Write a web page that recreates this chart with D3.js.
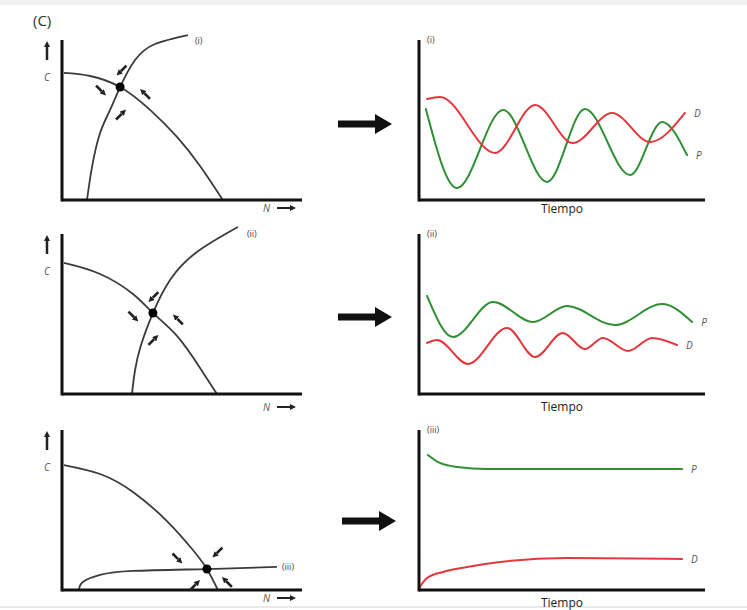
<!DOCTYPE html>
<html>
<head>
    <meta charset="utf-8">
    <title>Isoclinas y dinámica en el tiempo</title>
    <style>
        body {
            margin: 0;
            background: #fff;
        }

        svg {
            display: block;
            font-family: "Open Sans", "Noto Sans", sans-serif;
        }

        .iso {
            fill: none;
            stroke: #3b3b3b;
            stroke-width: 1.8;
        }

        .axis-line {
            stroke: #111;
            stroke-width: 3;
        }

        .series {
            fill: none;
            stroke-width: 2;
            stroke-linecap: round;
        }
    </style>
    <script src="https://d3js.org/d3.v7.min.js"></script>
</head>
<body>
<svg id="chart" width="747" height="610"></svg>
<script>
    // nombres de los paneles
    const panelLabels = ["(i)", "(ii)", "(iii)"];

    // isoclina descendente, puntos [N, C]
    const curveDown = [
        [[0.8, 79.4], [11.8, 77.5], [24.4, 70.6], [37.0, 56.3], [48.3, 39.4], [58.0, 21.3], [67.6, 0]],
        [[0.8, 81.9], [16.0, 75.0], [29.8, 62.5], [38.2, 50.6], [48.3, 36.3], [58.0, 16.3], [65.1, 0]],
        [[0.8, 78.1], [16.0, 72.5], [29.8, 61.3], [44.1, 43.1], [55.0, 25.0], [60.9, 13.1], [65.5, 0]]
    ];

    // isoclina ascendente, puntos [N, C]
    const curveUp = [
        [[10.5, 0], [12.6, 20.6], [16.0, 41.9], [20.2, 56.3], [24.4, 70.6], [30.7, 87.5], [39.1, 97.5], [52.9, 103.1]],
        [[29.4, 0], [30.7, 15.0], [33.2, 30.6], [38.2, 50.6], [45.4, 71.3], [56.7, 88.8], [73.9, 104.4]],
        [[7.1, 0], [8.8, 5.0], [16.0, 9.4], [29.8, 11.9], [60.9, 13.1], [90.3, 14.4]]
    ];

    // punto de equilibrio [N, C]
    const equilibria = [[24.4, 70.6], [38.2, 50.6], [60.9, 13.1]];

    // flechitas alrededor del equilibrio: centro [N, C] y dirección
    const flowArrows = [
        [{n: 25.0, c: 80.9, dir: "SW"}, {n: 16.4, c: 68.4, dir: "SE"}, {n: 34.9, c: 66.3, dir: "NW"}, {n: 24.8, c: 53.4, dir: "NE"}],
        [{n: 38.4, c: 60.6, dir: "SW"}, {n: 30.0, c: 48.4, dir: "SE"}, {n: 48.7, c: 46.6, dir: "NW"}, {n: 38.4, c: 33.8, dir: "NE"}],
        [{n: 48.5, c: 19.7, dir: "SE"}, {n: 65.3, c: 23.4, dir: "SW"}, {n: 55.9, c: 3.1, dir: "NE"}, {n: 69.3, c: 5.0, dir: "NW"}]
    ];

    // series en el tiempo, puntos [tiempo, valor]
    const seriesD = [
        [[2.8, 63.1], [7.3, 64.4], [26.6, 29.4], [40.6, 59.4], [53.8, 35.6], [67.5, 54.4], [80.8, 36.3], [93.0, 54.4]],
        [[2.8, 31.9], [6.3, 33.8], [17.1, 18.8], [30.8, 41.3], [40.6, 23.1], [50.3, 38.1], [58.0, 28.1], [64.3, 35.0], [73.1, 26.9], [81.5, 35.0], [90.2, 30.6]],
        [[0.3, 1.9], [2.8, 7.5], [8.4, 11.3], [16.8, 14.4], [28.3, 17.5], [51.7, 20.0], [92.0, 19.4]]
    ];
    const seriesP = [
        [[2.4, 56.9], [13.3, 7.5], [29.4, 56.3], [44.8, 11.3], [58.0, 56.9], [73.8, 15.6], [85.0, 48.8], [93.7, 28.1]],
        [[2.8, 61.3], [11.9, 35.6], [25.9, 57.5], [39.9, 45.0], [51.7, 55.0], [68.5, 43.1], [85.0, 56.3], [95.5, 45.0]],
        [[3.1, 84.4], [7.3, 79.4], [13.3, 76.9], [23.8, 75.6], [56.3, 75.6], [92.0, 75.6]]
    ];

    // ---- disposición ----
    const rowTop = [40, 234, 430];
    const rowH = 160;
    const phaseRange = [62, 300];
    const timeRange = [419, 705];
    const bigArrowY = [124, 317, 521];
    const tiempoDy = [13, 17, 17];
    const nLabelDy = [12, 17, 12];
    const curveLabelOffset = [[7, 7], [9, 8], [5, 1]];
    const red = "#e2383b";
    const green = "#2f8f35";

    const dirs = {
        NE: [0.707, -0.707], NW: [-0.707, -0.707],
        SE: [0.707, 0.707], SW: [-0.707, 0.707]
    };

    const svg = d3.select("#chart");

    const defs = svg.append("defs");
    defs.append("marker")
        .attr("id", "head-small")
        .attr("viewBox", "0 -5 10 10")
        .attr("refX", 0)
        .attr("markerUnits", "userSpaceOnUse")
        .attr("markerWidth", 6)
        .attr("markerHeight", 6)
        .attr("orient", "auto")
        .append("path")
        .attr("d", "M0,-5L10,0L0,5Z")
        .attr("fill", "#222");
    defs.append("marker")
        .attr("id", "head-axis")
        .attr("viewBox", "0 -5 10 10")
        .attr("refX", 0)
        .attr("markerUnits", "userSpaceOnUse")
        .attr("markerWidth", 7)
        .attr("markerHeight", 6)
        .attr("orient", "auto")
        .append("path")
        .attr("d", "M0,-5L10,0L0,5Z")
        .attr("fill", "#222");

    // franja gris arriba y línea abajo (captura original)
    svg.append("rect")
        .attr("x", 0).attr("y", 0)
        .attr("width", 747).attr("height", 5)
        .attr("fill", "#f2f2f2");
    svg.append("line")
        .attr("x1", 0).attr("x2", 747)
        .attr("y1", 607).attr("y2", 607)
        .attr("stroke", "#e3e3e3")
        .attr("stroke-width", 1.5);

    svg.append("text")
        .attr("x", 33)
        .attr("y", 26)
        .attr("font-size", 15)
        .attr("fill", "#333")
        .text("(C)");

    const xN = d3.scaleLinear().domain([0, 100]).range(phaseRange);
    const xT = d3.scaleLinear().domain([0, 100]).range(timeRange);

    panelLabels.forEach((label, i) => {
        const top = rowTop[i];
        const bottom = top + rowH;
        const y = d3.scaleLinear().domain([0, 100]).range([bottom, top]);

        // ---------- plano de fases ----------
        const left = svg.append("g").attr("class", "phase");

        const isoLine = d3.line()
            .x(d => xN(d[0]))
            .y(d => y(d[1]))
            .curve(d3.curveNatural);

        left.append("path").attr("class", "iso").attr("d", isoLine(curveDown[i]));
        left.append("path").attr("class", "iso").attr("d", isoLine(curveUp[i]));

        const upEnd = curveUp[i][curveUp[i].length - 1];
        left.append("text")
            .attr("x", xN(upEnd[0]) + curveLabelOffset[i][0])
            .attr("y", y(upEnd[1]) + curveLabelOffset[i][1])
            .attr("dominant-baseline", "middle")
            .attr("font-size", 9)
            .attr("fill", "#444")
            .text(label);

        // ejes
        left.append("line").attr("class", "axis-line")
            .attr("x1", phaseRange[0]).attr("x2", phaseRange[0])
            .attr("y1", top).attr("y2", bottom + 1.5);
        left.append("line").attr("class", "axis-line")
            .attr("x1", phaseRange[0]).attr("x2", phaseRange[1] + 2)
            .attr("y1", bottom).attr("y2", bottom);

        // flecha y etiqueta C
        left.append("line")
            .attr("x1", 47).attr("x2", 47)
            .attr("y1", top + 20).attr("y2", top + 7)
            .attr("stroke", "#222")
            .attr("stroke-width", 2.5)
            .attr("marker-end", "url(#head-axis)");
        left.append("text")
            .attr("x", 47)
            .attr("y", top + 41)
            .attr("text-anchor", "middle")
            .attr("font-size", 10)
            .attr("font-style", "italic")
            .attr("fill", "#555")
            .text("C");

        // etiqueta N y flecha
        const nx = phaseRange[0] + 201;
        left.append("text")
            .attr("x", nx)
            .attr("y", bottom + nLabelDy[i])
            .attr("font-size", 10)
            .attr("font-style", "italic")
            .attr("fill", "#555")
            .text("N");
        left.append("line")
            .attr("x1", nx + 14).attr("x2", nx + 27)
            .attr("y1", bottom + nLabelDy[i] - 4).attr("y2", bottom + nLabelDy[i] - 4)
            .attr("stroke", "#222")
            .attr("stroke-width", 2)
            .attr("marker-end", "url(#head-axis)");

        // flechitas hacia el equilibrio
        left.selectAll(".flow")
            .data(flowArrows[i])
            .join("line")
            .attr("class", "flow")
            .attr("x1", d => xN(d.n) - 7 * dirs[d.dir][0])
            .attr("y1", d => y(d.c) - 7 * dirs[d.dir][1])
            .attr("x2", d => xN(d.n) + 1 * dirs[d.dir][0])
            .attr("y2", d => y(d.c) + 1 * dirs[d.dir][1])
            .attr("stroke", "#222")
            .attr("stroke-width", 2.6)
            .attr("marker-end", "url(#head-small)");

        left.append("circle")
            .attr("cx", xN(equilibria[i][0]))
            .attr("cy", y(equilibria[i][1]))
            .attr("r", 4.5)
            .attr("fill", "#000");

        // ---------- flecha grande ----------
        const ay = bigArrowY[i];
        const ax = i === 2 ? 342 : 338;
        svg.append("path")
            .attr("d", `M${ax},${ay - 3.5}H${ax + 37}V${ay - 10}L${ax + 54},${ay}L${ax + 37},${ay + 10}V${ay + 3.5}H${ax}Z`)
            .attr("fill", "#111");

        // ---------- serie temporal ----------
        const right = svg.append("g").attr("class", "time");

        const tLine = d3.line()
            .x(d => xT(d[0]))
            .y(d => y(d[1]))
            .curve(d3.curveMonotoneX);

        right.append("path").attr("class", "series")
            .attr("stroke", green)
            .attr("d", tLine(seriesP[i]));
        right.append("path").attr("class", "series")
            .attr("stroke", red)
            .attr("d", tLine(seriesD[i]));

        const endP = seriesP[i][seriesP[i].length - 1];
        const endD = seriesD[i][seriesD[i].length - 1];
        right.selectAll(".slabel")
            .data([{p: endP, t: "P"}, {p: endD, t: "D"}])
            .join("text")
            .attr("class", "slabel")
            .attr("x", d => xT(d.p[0]) + 9)
            .attr("y", d => y(d.p[1]) + 1)
            .attr("dominant-baseline", "middle")
            .attr("font-size", 10)
            .attr("font-style", "italic")
            .attr("fill", "#555")
            .text(d => d.t);

        right.append("line").attr("class", "axis-line")
            .attr("x1", timeRange[0]).attr("x2", timeRange[0])
            .attr("y1", top).attr("y2", bottom + 1.5);
        right.append("line").attr("class", "axis-line")
            .attr("x1", timeRange[0]).attr("x2", timeRange[1])
            .attr("y1", bottom).attr("y2", bottom);

        right.append("text")
            .attr("x", timeRange[0] + 8)
            .attr("y", top + 3)
            .attr("font-size", 9)
            .attr("fill", "#444")
            .text(label);

        right.append("text")
            .attr("x", (timeRange[0] + timeRange[1]) / 2)
            .attr("y", bottom + tiempoDy[i])
            .attr("text-anchor", "middle")
            .attr("font-size", 12)
            .attr("fill", "#222")
            .text("Tiempo");
    });
</script>
</body>
</html>
